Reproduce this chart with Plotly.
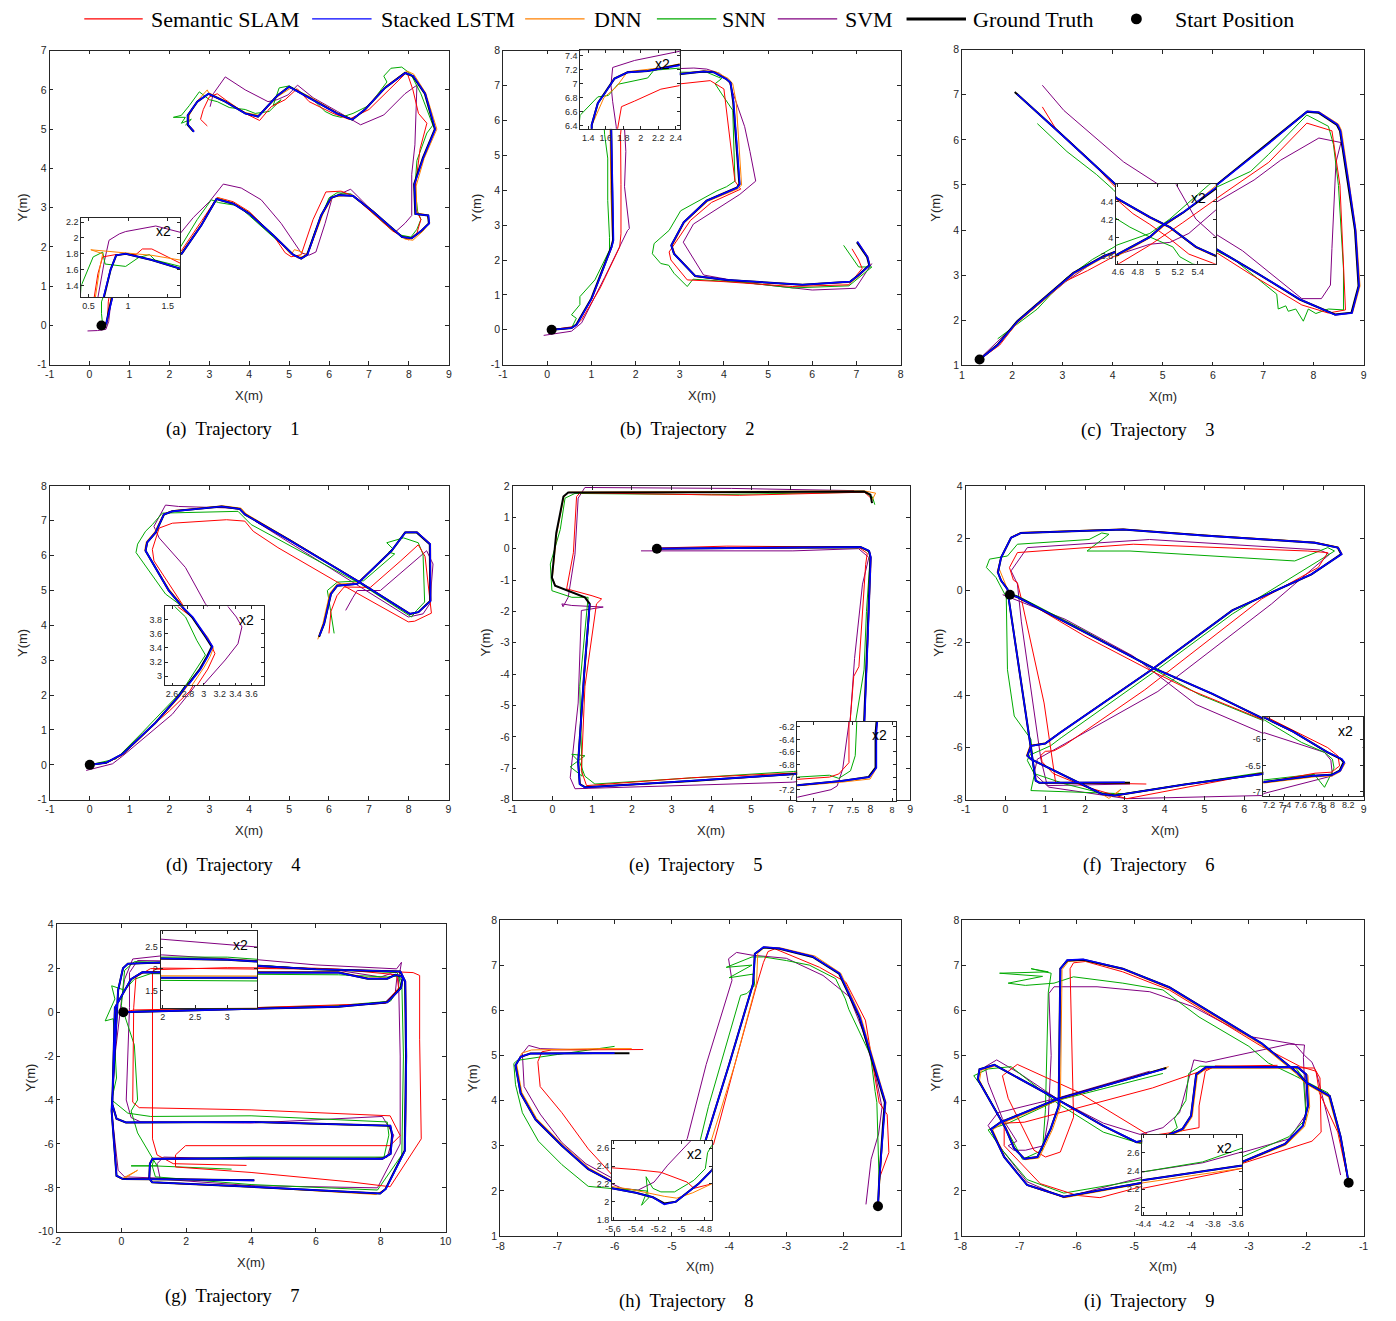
import plotly.graph_objects as go

W, H = 1396, 1321

# ======================= DATA =======================
# ---- Trajectory 1 ----
T1_GT_X = [0.30,0.42,0.49,0.57,0.69,0.78,0.85,0.97,1.30,1.66,2.00,2.31,2.80,3.18,3.60,4.00,4.60,5.10,5.30,5.45,5.80,6.05,6.25,6.60,7.10,7.60,7.83,8.07,8.32,8.50,8.48,8.16,8.13,8.35,8.65,8.40,8.10,7.90,7.40,6.90,6.58,6.20,5.60,5.00,4.70,4.22,3.90,3.40,2.98,2.70,2.46,2.46,2.60]
T1_GT_Y = [0.00,0.05,0.40,0.74,1.25,1.60,1.78,1.80,1.72,1.61,1.70,1.83,2.55,3.22,3.10,2.85,2.30,1.80,1.70,1.80,2.80,3.25,3.32,3.30,2.90,2.45,2.25,2.22,2.42,2.60,2.80,2.84,3.60,4.27,5.00,5.90,6.35,6.43,6.05,5.50,5.24,5.40,5.75,6.08,5.85,5.32,5.40,5.70,5.90,5.70,5.35,5.11,4.94]
T1_LSTM_X = [0.30,0.42,0.50,0.58,0.69,0.78,0.85,0.97,1.30,1.66,2.00,2.31,2.80,3.18,3.60,4.00,4.60,5.10,5.30,5.46,5.80,6.05,6.25,6.60,7.10,7.60,7.83,8.07,8.32,8.51,8.49,8.17,8.14,8.36,8.66,8.41,8.11,7.91,7.40,6.90,6.58,6.20,5.60,5.00,4.70,4.22,3.90,3.40,2.98,2.70,2.46,2.47,2.62]
T1_LSTM_Y = [0.00,0.05,0.40,0.74,1.25,1.60,1.78,1.80,1.72,1.61,1.70,1.83,2.55,3.22,3.10,2.85,2.30,1.80,1.70,1.80,2.80,3.25,3.32,3.30,2.90,2.45,2.25,2.22,2.42,2.60,2.80,2.84,3.60,4.27,5.00,5.90,6.35,6.43,6.05,5.50,5.24,5.40,5.75,6.08,5.85,5.32,5.40,5.70,5.90,5.70,5.35,5.11,4.93]
T1_SLAM_X = [0.35,0.45,0.47,0.56,0.62,0.68,0.85,1.10,1.18,1.30,1.66,2.00,2.30,2.80,3.20,3.60,4.00,4.60,4.90,5.05,5.30,5.60,5.92,6.30,6.60,7.10,7.60,7.99,8.20,8.30,8.15,8.15,8.28,8.45,8.24,8.10,7.95,7.50,7.00,6.50,6.10,5.50,5.20,4.90,4.55,4.26,3.90,3.40,3.20,3.00,2.85,2.78,2.95]
T1_SLAM_Y = [0.02,0.10,0.60,1.20,1.55,1.76,1.79,1.79,1.86,1.86,1.68,1.75,1.90,2.65,3.26,3.15,2.90,2.30,1.85,1.75,1.80,2.70,3.40,3.42,3.30,2.85,2.40,2.18,2.35,2.70,3.00,3.45,4.50,5.15,5.40,6.00,6.45,6.00,5.50,5.25,5.40,5.70,6.03,5.75,5.57,5.22,5.40,5.75,5.90,5.82,5.50,5.25,5.08]
T1_DNN_X = [0.32,0.45,0.52,0.58,0.64,0.68,0.53,0.90,1.30,1.66,2.00,2.30,2.80,3.22,3.60,4.00,4.60,5.05,5.13,5.34,5.20,5.35,5.50,5.85,6.10,6.60,7.10,7.60,7.90,8.10,8.35,8.52,8.45,8.20,8.18,8.38,8.70,8.42,8.12,7.95,7.40,6.90,6.60,6.20,5.60,5.05,4.70,4.25,3.90,3.40,2.98,2.95,2.70,2.50,2.48,2.62]
T1_DNN_Y = [0.02,0.10,0.60,1.20,1.60,1.80,1.85,1.82,1.78,1.72,1.70,1.85,2.58,3.25,3.12,2.88,2.30,1.80,1.93,1.87,1.72,1.76,1.90,2.85,3.28,3.32,2.92,2.45,2.20,2.17,2.40,2.62,2.82,2.86,3.55,4.25,5.00,5.92,6.40,6.48,6.08,5.52,5.25,5.42,5.78,6.05,5.82,5.35,5.42,5.72,5.93,6.00,5.72,5.36,5.12,4.96]
T1_SNN_X = [0.33,0.30,0.30,0.35,0.41,0.56,0.68,0.71,0.85,0.97,1.13,1.27,1.34,1.66,2.00,2.28,2.70,3.05,3.23,3.45,3.72,4.00,4.60,5.10,5.28,5.45,5.65,6.00,6.20,6.55,7.00,7.55,7.80,8.05,8.20,8.30,8.22,8.15,8.20,8.45,8.60,8.30,8.05,7.82,7.55,7.37,7.45,7.30,7.00,6.60,6.30,6.10,5.90,5.55,5.20,5.00,4.75,4.60,4.80,4.50,4.15,3.90,3.50,3.20,3.00,2.75,2.50,2.30,2.10,2.40,2.30,2.55,2.40]
T1_SNN_Y = [0.00,0.30,0.60,0.75,1.40,1.76,1.82,1.67,1.65,1.64,1.75,1.79,1.72,1.64,1.80,2.00,2.70,3.20,3.13,3.10,3.05,2.80,2.25,1.80,1.72,1.80,2.40,3.25,3.38,3.35,2.95,2.45,2.30,2.25,2.45,2.70,2.90,3.50,4.20,4.90,5.10,5.90,6.40,6.58,6.55,6.35,6.20,6.00,5.60,5.40,5.30,5.35,5.45,5.80,6.00,6.10,6.05,5.60,5.75,5.45,5.40,5.50,5.55,5.70,5.75,5.95,5.60,5.35,5.30,5.30,5.15,5.25,5.10]
T1_SVM_X = [-0.05,0.20,0.41,0.48,0.55,0.62,0.70,0.76,0.89,0.97,1.26,1.35,1.66,2.27,2.60,3.00,3.35,3.80,4.30,4.80,5.30,5.50,5.67,5.90,6.08,6.54,7.10,7.66,7.90,8.07,8.07,8.15,8.20,7.90,7.37,6.79,6.21,5.60,5.21,4.97,4.70,4.47,3.90,3.40,3.10,3.02]
T1_SVM_Y = [-0.14,-0.13,-0.10,0.10,0.74,1.25,1.70,1.97,2.05,2.08,2.13,2.15,2.07,2.34,2.75,3.15,3.60,3.50,3.20,2.60,1.85,1.79,1.87,2.60,3.26,3.47,2.90,2.38,2.60,2.80,3.85,4.60,6.12,5.90,5.36,5.11,5.45,5.80,6.12,5.87,5.75,5.70,6.00,6.33,5.90,5.57]

# ---- Trajectory 2 ----
T2_GT_X = [0.10,0.55,0.66,1.00,1.45,1.49,1.47,1.45,1.44,1.44,1.51,1.59,1.70,1.85,2.08,2.44,2.98,3.54,3.77,4.06,4.15,4.21,4.35,4.29,3.61,3.09,2.81,2.87,3.35,4.06,5.78,6.86,7.05,7.29,7.24,7.01]
T2_GT_Y = [0.00,0.05,0.15,0.90,2.37,2.56,4.00,5.59,6.20,6.41,6.72,6.86,7.07,7.16,7.18,7.27,7.32,7.40,7.38,7.18,7.08,6.53,4.17,4.07,3.70,3.08,2.42,2.18,1.54,1.43,1.29,1.38,1.57,1.85,2.09,2.51]
T2_LSTM_X = [0.10,0.55,0.67,1.01,1.46,1.50,1.48,1.46,1.44,1.44,1.51,1.59,1.70,1.85,2.08,2.44,2.98,3.54,3.77,4.06,4.15,4.22,4.36,4.30,3.61,3.09,2.81,2.87,3.35,4.06,5.78,6.86,7.05,7.30,7.25,7.02]
T2_LSTM_Y = [0.00,0.05,0.15,0.90,2.37,2.56,4.00,5.59,6.20,6.41,6.72,6.86,7.07,7.16,7.18,7.26,7.32,7.40,7.38,7.18,7.08,6.53,4.17,4.07,3.70,3.08,2.42,2.18,1.54,1.43,1.29,1.38,1.57,1.85,2.09,2.53]
T2_SLAM_X = [0.10,0.63,0.78,1.20,1.64,1.67,1.67,1.66,1.70,1.74,1.78,1.93,2.23,2.44,3.02,3.69,4.00,4.06,4.25,4.38,3.72,3.24,2.76,2.80,3.17,4.00,5.56,6.83,7.13,7.05,6.90]
T2_SLAM_Y = [0.00,0.10,0.29,1.20,2.37,2.75,4.17,5.59,6.10,6.41,6.67,6.75,6.92,6.97,7.05,7.14,6.90,6.25,4.26,4.03,3.65,3.13,2.23,2.00,1.43,1.38,1.24,1.29,1.76,2.00,2.32]
T2_DNN_X = [0.10,0.55,0.68,1.02,1.46,1.48,1.44,1.43,1.42,1.44,1.58,1.72,1.85,2.20,2.44,3.00,3.55,3.80,4.10,4.20,4.28,4.40,4.32,3.63,3.10,2.83,2.90,3.38,4.10,5.80,6.88,7.08,7.31,7.26,7.03]
T2_DNN_Y = [0.00,0.06,0.17,0.90,2.35,2.60,4.00,5.60,6.20,6.40,6.80,6.95,7.17,7.22,7.28,7.34,7.42,7.40,7.20,7.05,6.50,4.15,4.04,3.68,3.06,2.40,2.15,1.52,1.41,1.28,1.36,1.56,1.86,2.10,2.53]
T2_SNN_X = [0.10,0.55,0.66,0.55,0.74,0.74,1.08,1.41,1.41,1.37,1.37,1.30,1.27,1.31,1.51,1.63,1.74,2.08,2.15,2.44,3.02,3.61,3.95,3.80,3.95,4.20,4.25,4.06,3.84,3.02,2.76,2.42,2.38,2.57,2.75,2.87,3.17,3.30,4.50,5.56,6.83,7.35,7.05,6.71]
T2_SNN_Y = [0.00,0.05,0.33,0.43,0.72,0.95,1.43,2.28,2.65,3.70,4.92,5.59,6.20,6.55,6.81,6.83,6.99,7.08,7.19,7.22,7.38,7.38,7.20,7.05,6.76,6.29,4.26,4.10,3.98,3.41,2.85,2.47,2.18,1.90,1.85,1.62,1.24,1.45,1.35,1.20,1.26,1.80,1.80,2.42]
T2_SVM_X = [-0.08,0.55,0.78,1.30,1.82,1.86,1.75,1.78,1.74,1.72,1.68,1.66,1.68,1.93,2.44,3.32,3.61,3.90,4.12,4.47,4.59,4.72,4.36,3.31,3.08,3.54,4.50,6.00,6.98,7.20,7.35]
T2_SVM_Y = [-0.16,-0.04,0.20,1.50,2.85,2.90,4.10,5.11,6.00,6.39,6.74,6.98,7.23,7.33,7.46,7.50,7.47,7.35,7.10,5.82,5.11,4.26,3.88,3.03,2.51,1.57,1.35,1.14,1.19,1.62,1.90]

# ---- Trajectory 3 ----
T3_GT_X = [1.35,1.70,2.10,2.70,3.22,3.82,4.30,4.60,4.92,5.05,5.25,5.58,6.07,7.05,7.87,8.10,8.47,8.53,8.70,8.83,8.90,8.76,8.43,7.73,6.90,6.05,5.58,5.38,5.12,4.92,4.59,4.07,3.00,2.05]
T3_GT_Y = [1.13,1.45,1.98,2.55,3.05,3.42,3.62,3.82,4.01,4.14,4.28,4.56,5.00,5.87,6.62,6.60,6.33,6.20,5.00,4.00,2.76,2.17,2.13,2.46,3.03,3.59,3.80,3.90,4.12,4.23,4.44,5.00,6.10,7.06]
T3_LSTM_X = [1.36,1.71,2.11,2.71,3.23,3.83,4.30,4.60,4.92,5.05,5.25,5.58,6.08,7.06,7.88,8.11,8.48,8.54,8.71,8.84,8.91,8.77,8.44,7.74,6.90,6.05,5.58,5.38,5.12,4.92,4.59,4.07,3.00,2.10]
T3_LSTM_Y = [1.14,1.45,1.98,2.55,3.05,3.42,3.62,3.82,4.01,4.14,4.28,4.56,5.00,5.87,6.63,6.61,6.34,6.20,5.00,4.00,2.76,2.16,2.12,2.46,3.03,3.59,3.80,3.90,4.12,4.23,4.44,5.00,6.10,7.01]
T3_SLAM_X = [1.38,1.75,2.10,2.60,3.03,3.50,4.00,4.62,4.92,5.25,5.58,6.07,7.11,7.87,8.37,8.53,8.60,8.64,8.30,7.77,6.72,6.10,5.55,5.31,5.12,4.92,4.75,4.59,4.10,3.50,2.86,2.60]
T3_SLAM_Y = [1.15,1.45,1.95,2.45,2.85,3.10,3.40,3.72,3.92,4.17,4.43,4.70,5.50,6.37,6.20,4.99,3.33,2.23,2.16,2.34,3.04,3.48,3.72,3.82,3.99,4.15,4.27,4.42,4.90,5.60,6.26,6.73]
T3_DNN_X = [1.36,1.72,2.12,2.72,3.24,3.84,4.32,4.60,4.92,5.06,5.27,5.58,6.09,7.07,7.88,8.12,8.50,8.56,8.72,8.85,8.93,8.78,8.45,7.75,6.92,6.07,5.58,5.38,5.12,4.92,4.59,4.08,3.02,2.08]
T3_DNN_Y = [1.13,1.44,1.96,2.53,3.03,3.40,3.60,3.80,4.00,4.13,4.29,4.58,5.02,5.88,6.64,6.62,6.35,6.21,5.00,4.00,2.76,2.16,2.12,2.45,3.02,3.57,3.79,3.89,4.11,4.22,4.43,4.99,6.08,7.03]
T3_SNN_X = [1.71,2.50,3.06,3.60,4.07,4.59,4.92,5.12,5.51,6.07,6.75,7.11,7.87,8.30,8.40,8.50,8.60,8.60,8.30,8.05,7.90,7.80,7.65,7.50,7.45,7.30,7.27,6.45,6.05,5.35,5.22,5.15,4.92,4.72,4.59,4.01,3.68,3.09,2.50]
T3_SNN_Y = [1.59,2.25,2.92,3.35,3.65,3.92,4.05,4.21,4.59,4.95,5.30,5.68,6.55,6.30,5.90,4.99,3.14,2.23,2.25,2.15,2.25,1.98,2.25,2.20,2.32,2.25,2.58,3.32,3.55,3.71,3.79,3.90,4.01,4.12,4.21,4.90,5.23,5.74,6.36]
T3_SVM_X = [1.40,2.10,3.06,3.70,4.20,4.59,4.92,5.12,5.31,5.58,6.07,6.82,7.35,8.11,8.55,8.45,8.37,8.34,8.16,7.77,6.59,6.07,5.58,5.38,5.18,4.93,4.22,3.03,2.60]
T3_SVM_Y = [1.20,1.95,2.85,3.35,3.60,3.81,3.93,3.95,4.05,4.31,4.62,5.11,5.55,6.04,5.94,5.50,3.59,2.78,2.48,2.48,3.54,3.90,4.01,4.21,4.60,5.00,5.51,6.65,7.21]

# ---- Trajectory 4 ----
T4_GT_X = [0.00,0.41,0.82,1.65,2.23,2.79,2.95,3.04,3.10,3.02,2.85,2.73,2.40,1.98,1.40,1.44,1.65,1.86,2.07,3.31,3.76,3.89,5.00,6.71,8.03,8.24,8.54,8.53,8.20,7.91,7.57,7.04,6.71,6.21,6.05,5.88,5.75]
T4_GT_Y = [0.00,0.06,0.31,1.21,1.97,2.87,3.10,3.28,3.42,3.56,3.84,3.98,4.43,5.00,6.14,6.38,6.66,7.18,7.27,7.41,7.34,7.18,6.45,5.28,4.33,4.38,4.70,6.33,6.66,6.66,6.14,5.57,5.19,5.14,4.90,4.05,3.67]
T4_LSTM_X = [0.00,0.41,0.82,1.65,2.23,2.80,2.96,3.05,3.11,3.03,2.86,2.73,2.40,1.98,1.40,1.44,1.65,1.86,2.07,3.31,3.76,3.89,5.00,6.71,8.03,8.25,8.55,8.54,8.21,7.92,7.57,7.04,6.71,6.21,6.05,5.88,5.76]
T4_LSTM_Y = [0.00,0.06,0.31,1.21,1.97,2.87,3.10,3.28,3.42,3.56,3.84,3.98,4.43,5.00,6.14,6.38,6.66,7.18,7.27,7.41,7.34,7.18,6.45,5.28,4.33,4.38,4.70,6.33,6.67,6.67,6.14,5.57,5.19,5.14,4.90,4.05,3.70]
T4_SLAM_X = [0.05,0.40,0.82,1.40,2.00,2.50,2.91,3.05,3.14,3.10,3.02,2.85,2.68,2.32,1.61,1.57,1.74,2.07,3.43,3.89,4.10,4.72,6.21,7.99,8.15,8.57,8.45,8.41,8.24,7.80,7.04,6.70,6.38,6.20,6.05,6.00]
T4_SLAM_Y = [0.02,0.05,0.28,0.95,1.55,2.10,2.86,3.10,3.32,3.42,3.56,3.84,3.98,4.62,5.85,6.18,6.79,6.93,7.03,6.99,6.70,6.23,5.24,4.10,4.12,4.35,5.55,5.98,6.31,5.85,5.09,5.10,5.10,4.85,4.40,3.77]
T4_DNN_X = [0.00,0.41,0.84,1.67,2.25,2.85,3.00,3.08,3.12,3.05,2.85,2.72,2.42,2.00,1.38,1.42,1.63,1.85,2.08,3.33,3.80,3.92,5.02,6.73,8.05,8.26,8.56,8.55,8.22,7.92,7.58,7.05,6.70,6.20,6.02,5.85,5.72]
T4_DNN_Y = [0.00,0.05,0.30,1.20,1.95,2.87,3.12,3.28,3.40,3.55,3.84,3.98,4.45,5.02,6.16,6.40,6.68,7.20,7.29,7.43,7.36,7.20,6.46,5.28,4.32,4.38,4.70,6.34,6.68,6.68,6.15,5.58,5.22,5.18,4.92,4.06,3.60]
T4_SNN_X = [0.00,0.66,1.32,2.23,2.79,3.02,2.91,2.77,2.64,2.23,1.90,1.16,1.20,1.40,1.57,1.82,3.72,4.05,6.79,8.07,8.20,8.40,8.36,8.24,7.87,7.45,7.60,7.50,7.65,6.87,6.21,5.96,6.04,6.13]
T4_SNN_Y = [0.00,0.17,0.93,2.02,2.90,3.30,3.51,3.84,3.98,4.62,4.90,6.09,6.33,6.70,6.89,7.22,7.27,6.89,5.19,4.24,4.43,4.67,6.04,6.37,6.51,6.37,6.20,6.10,6.05,5.28,5.24,5.00,4.43,3.77]
T4_SVM_X = [-0.09,0.57,0.82,1.50,2.07,2.60,2.98,3.27,3.43,3.48,3.41,3.31,2.90,2.40,1.74,1.61,1.90,2.23,3.72,4.22,6.46,7.99,8.36,8.53,8.61,8.45,7.29,6.71,6.60,6.42]
T4_SVM_Y = [-0.16,0.03,0.25,0.90,1.45,2.20,2.86,3.23,3.46,3.70,3.84,3.98,4.62,5.66,6.51,6.84,7.45,7.41,7.36,6.94,5.33,4.24,4.33,4.62,5.76,6.14,5.00,5.00,4.80,4.43]

# ---- Trajectory 5 ----
T5_GT_X = [2.63,4.00,6.00,7.75,7.96,8.00,7.92,7.84,7.79,7.79,7.70,7.36,6.79,6.07,3.50,0.82,0.69,0.65,0.80,0.94,0.82,0.07,-0.01,0.10,0.28,0.40,4.00,7.84,8.00,8.04]
T5_GT_Y = [0.00,0.01,0.03,0.05,-0.07,-0.28,-3.00,-5.55,-6.30,-6.85,-7.00,-7.06,-7.13,-7.18,-7.40,-7.60,-7.50,-6.81,-4.00,-1.76,-1.55,-1.18,-0.92,0.50,1.66,1.79,1.80,1.82,1.72,1.45]
T5_LSTM_X = [2.63,4.00,6.00,7.75,7.97,8.01,7.93,7.85,7.80,7.80,7.71,7.36,6.79,6.07,3.50,0.82,0.69,0.65,0.80,0.94]
T5_LSTM_Y = [0.00,0.01,0.03,0.05,-0.07,-0.28,-3.00,-5.55,-6.30,-6.85,-7.00,-7.06,-7.13,-7.19,-7.41,-7.61,-7.51,-6.81,-4.00,-1.76]
T5_SLAM_X = [2.63,4.39,7.70,7.92,7.88,7.71,7.58,7.50,7.45,7.45,7.32,7.20,6.79,6.07,3.50,1.24,0.86,0.73,0.82,1.11,1.24,1.00,0.36,0.53,0.61,0.70,4.70,7.85,8.02]
T5_SLAM_Y = [0.02,0.08,0.05,-0.15,-0.50,-3.76,-4.07,-5.50,-6.12,-6.77,-6.95,-7.00,-7.05,-7.15,-7.30,-7.50,-7.55,-7.07,-4.39,-1.76,-1.60,-1.50,-1.28,-0.13,1.66,1.78,1.70,1.80,1.60]
T5_DNN_X = [2.63,4.00,6.00,7.75,7.98,8.02,7.93,7.85,7.80,7.80,7.72,7.36,6.79,6.07,3.50,0.83,0.70,0.66,0.81,0.95,0.83,0.08,0.00,0.11,0.29,0.42,4.00,7.84,8.13,8.02]
T5_DNN_Y = [0.00,0.00,0.02,0.03,-0.09,-0.30,-3.00,-5.55,-6.30,-6.86,-7.03,-7.08,-7.14,-7.19,-7.41,-7.61,-7.51,-6.82,-4.01,-1.77,-1.56,-1.19,-0.93,0.49,1.65,1.80,1.82,1.84,1.77,1.50]
T5_SNN_X = [2.63,5.00,7.80,8.00,7.90,7.84,7.65,7.55,7.53,7.47,7.32,7.20,6.79,6.07,1.07,0.82,0.69,0.49,0.82,0.45,0.75,0.69,0.90,0.49,-0.01,-0.05,0.20,0.32,0.57,4.00,7.84,8.05,8.11]
T5_SNN_Y = [0.00,0.02,0.03,-0.15,-2.00,-3.86,-5.30,-6.12,-6.66,-6.90,-7.02,-6.97,-7.00,-7.10,-7.50,-7.25,-6.81,-6.55,-6.60,-6.95,-7.25,-4.39,-1.55,-1.55,-1.34,-0.49,0.61,1.61,1.76,1.72,1.80,1.65,1.40]
T5_SVM_X = [2.23,4.00,6.05,7.70,7.96,7.80,7.60,7.51,7.45,7.37,7.30,7.22,6.79,6.05,0.57,0.45,0.65,0.73,1.28,0.49,0.24,0.27,0.40,0.57,0.65,0.82,4.50,7.59]
T5_SVM_Y = [-0.07,-0.08,-0.07,0.00,-0.28,-1.13,-3.50,-5.13,-6.14,-6.87,-7.14,-7.20,-7.32,-7.44,-7.65,-7.30,-4.92,-1.97,-1.86,-1.81,-1.76,-1.85,-1.55,-0.18,1.61,1.95,1.92,1.85]

# ---- Trajectory 6 ----
T6_GT_X = [0.11,0.30,2.00,3.70,5.20,6.44,7.15,7.50,7.94,8.11,8.14,8.09,7.99,7.76,7.13,6.44,4.50,2.75,2.42,1.50,0.64,0.55,0.64,1.00,1.38,3.70,5.70,7.69,8.19,8.44,8.35,7.77,5.00,2.96,0.39,0.14,-0.11,-0.19,-0.11,0.05,0.08,0.40,0.76,0.85,3.13]
T6_GT_Y = [-0.16,-0.25,-1.60,-2.95,-3.95,-4.87,-5.59,-5.85,-6.25,-6.38,-6.44,-6.60,-6.68,-6.70,-6.82,-7.02,-7.42,-7.84,-7.78,-7.10,-6.45,-6.32,-5.94,-5.85,-5.43,-3.00,-0.76,0.62,1.13,1.39,1.64,1.83,2.10,2.33,2.20,2.02,1.26,0.69,0.38,0.05,-0.30,-3.50,-7.27,-7.35,-7.35]
T6_LSTM_X = [0.11,0.30,2.00,3.70,5.20,6.44,7.15,7.50,7.94,8.12,8.15,8.10,8.00,7.76,7.13,6.44,4.50,2.75,2.42,1.50,0.64,0.55,0.64,1.00,1.38,3.70,5.70,7.69,8.20,8.45,8.36,7.77,5.00,2.96,0.39,0.14,-0.11,-0.19,-0.11,0.05,0.08,0.40,0.76,0.85,3.00]
T6_LSTM_Y = [-0.16,-0.25,-1.60,-2.95,-3.95,-4.87,-5.59,-5.85,-6.25,-6.38,-6.44,-6.60,-6.68,-6.70,-6.82,-7.02,-7.42,-7.84,-7.78,-7.10,-6.45,-6.32,-5.94,-5.85,-5.43,-3.00,-0.76,0.62,1.13,1.39,1.64,1.83,2.10,2.33,2.20,2.02,1.26,0.69,0.38,0.05,-0.30,-3.50,-7.27,-7.35,-7.33]
T6_SLAM_X = [0.12,0.39,2.00,3.70,4.62,6.44,7.19,7.94,8.07,8.09,7.99,7.78,7.15,6.44,3.05,2.00,1.20,0.92,0.89,1.00,1.22,1.50,3.50,6.44,7.86,8.10,7.60,3.21,0.30,0.10,0.20,0.30,0.39,0.97,1.26,3.54]
T6_SLAM_Y = [-0.12,-0.30,-1.75,-3.10,-3.79,-4.92,-5.59,-6.16,-6.32,-6.51,-6.63,-6.65,-6.79,-6.98,-7.96,-7.50,-7.00,-6.55,-6.30,-6.15,-6.13,-5.90,-3.80,-0.32,0.88,1.45,1.51,1.77,1.45,0.88,0.40,0.30,-0.26,-4.30,-7.34,-7.40]
T6_DNN_X = [0.11,0.30,2.00,3.70,5.20,6.44,7.15,7.50,7.94,8.12,8.16,8.10,8.00,7.77,7.13,6.44,4.50,2.75,2.90,2.60,2.42,1.50,0.64,0.53,0.62,1.00,1.38,3.70,5.70,7.70,8.20,8.46,8.37,7.78,5.00,2.96,0.39,0.14,-0.11,-0.21,-0.15,0.05,0.08,0.40,0.76,0.85,3.13]
T6_DNN_Y = [-0.16,-0.25,-1.60,-2.95,-3.96,-4.88,-5.60,-5.86,-6.26,-6.39,-6.46,-6.62,-6.70,-6.72,-6.84,-7.03,-7.43,-7.85,-7.60,-7.95,-7.78,-7.10,-6.45,-6.30,-5.92,-5.83,-5.41,-2.98,-0.75,0.63,1.14,1.40,1.66,1.85,2.12,2.35,2.22,2.04,1.28,0.70,0.80,0.05,-0.30,-3.50,-7.28,-7.36,-7.36]
T6_SNN_X = [0.10,0.30,2.00,4.87,6.44,7.13,7.61,7.90,8.00,8.02,7.90,7.77,7.13,6.44,2.96,2.50,1.50,0.72,0.55,0.60,1.13,1.40,3.70,5.70,8.27,8.10,7.27,3.13,2.05,2.30,2.60,2.42,2.10,0.30,0.05,-0.40,-0.48,-0.24,0.02,0.05,0.22,0.64,0.72,0.64,1.50,2.96]
T6_SNN_Y = [-0.12,-0.20,-1.55,-3.98,-4.95,-5.62,-6.06,-6.25,-6.38,-6.55,-6.92,-6.67,-6.78,-6.96,-7.77,-7.78,-7.40,-7.00,-6.50,-6.30,-5.94,-5.63,-3.15,-0.90,1.51,1.64,1.13,1.51,1.51,1.80,2.15,2.20,1.95,1.77,1.32,1.20,0.88,0.50,-0.25,-3.03,-4.80,-5.69,-7.08,-7.65,-7.70,-7.77]
T6_SVM_X = [-0.07,1.50,3.20,4.79,6.44,7.13,7.90,7.98,8.00,7.13,6.44,3.05,1.09,0.72,0.80,2.50,3.83,6.69,8.14,7.90,3.62,0.55,0.14,0.30,0.40,0.89,1.05,3.13]
T6_SVM_Y = [-0.16,-1.10,-2.50,-4.36,-5.44,-5.87,-6.25,-6.40,-6.70,-7.04,-7.84,-7.96,-7.52,-7.00,-6.45,-5.00,-3.86,-0.51,1.38,1.55,1.95,1.64,0.75,0.25,-1.20,-6.45,-7.46,-7.40]

# ---- Trajectory 7 ----
T7_GT_X = [0.06,1.20,4.00,6.70,8.20,8.62,8.68,8.45,8.20,7.60,6.70,3.50,2.00,0.65,0.30,0.00,-0.20,-0.28,-0.15,0.14,4.00,8.29,8.35,8.30,8.05,4.00,0.96,0.88,0.86,0.95,4.00,7.98,8.15,8.74,8.78,8.75,8.60,6.00,3.00,1.20,0.20,0.05,-0.10,-0.25,-0.30,-0.15,0.05,2.00,4.10]
T7_GT_Y = [0.00,0.05,0.15,0.25,0.45,1.10,1.60,1.70,1.52,1.52,1.80,1.80,1.80,1.82,1.50,0.70,0.20,-4.20,-4.85,-5.02,-5.00,-5.17,-5.60,-6.45,-6.68,-6.66,-6.68,-6.90,-7.58,-7.75,-7.95,-8.26,-8.05,-6.30,-2.00,1.40,1.85,1.95,2.21,2.26,2.20,2.00,1.00,-3.00,-4.50,-7.45,-7.60,-7.62,-7.65]
T7_LSTM_X = [0.06,1.20,4.00,6.70,8.21,8.63,8.69,8.46,8.20,7.60,6.70,3.50,2.00,0.65,0.30,0.00,-0.20,-0.28,-0.15,0.14,4.00,8.30,8.36,8.31,8.05,4.00,0.96,0.88,0.86,0.95,4.00,7.98,8.16,8.75,8.79,8.76,8.61,6.00,3.00,1.20,0.20,0.05,-0.10,-0.25,-0.30,-0.15,0.05,2.00,4.10]
T7_LSTM_Y = [0.00,0.05,0.15,0.25,0.45,1.10,1.60,1.70,1.52,1.52,1.80,1.80,1.80,1.82,1.50,0.70,0.20,-4.20,-4.85,-5.02,-5.00,-5.17,-5.60,-6.45,-6.68,-6.66,-6.68,-6.90,-7.58,-7.75,-7.95,-8.26,-8.05,-6.30,-2.00,1.40,1.85,1.95,2.21,2.26,2.20,2.00,1.00,-3.00,-4.50,-7.45,-7.60,-7.62,-7.66]
T7_SLAM_X = [0.06,0.40,4.00,8.15,8.55,8.50,6.70,2.00,0.90,0.45,0.38,0.35,0.55,4.00,8.29,8.60,8.29,4.00,1.98,1.67,1.67,4.00,7.07,8.29,9.25,9.20,9.20,9.00,6.00,3.00,1.00,0.96,0.96,1.10,1.60,3.86]
T7_SLAM_Y = [0.00,0.10,0.20,0.40,1.10,1.70,1.95,2.02,1.98,1.60,0.20,-4.10,-4.35,-4.45,-4.72,-5.62,-6.08,-6.10,-6.08,-6.50,-7.05,-7.30,-7.73,-7.95,-5.77,-1.26,1.67,1.80,2.00,2.03,1.95,1.74,-5.77,-6.50,-6.90,-6.98]
T7_DNN_X = [0.06,1.20,4.00,6.70,8.22,8.64,8.70,8.47,8.22,7.62,6.70,3.50,2.00,0.66,0.30,0.00,-0.20,-0.28,-0.15,0.14,4.00,8.30,8.36,8.31,8.06,4.00,0.96,0.88,0.86,0.95,4.00,7.85,8.15,8.76,8.80,8.77,8.62,6.00,3.00,1.20,0.20,0.05,-0.10,-0.25,-0.30,-0.15,0.00,0.50,0.05,2.00,4.10]
T7_DNN_Y = [0.00,0.05,0.15,0.25,0.46,1.10,1.60,1.72,1.55,1.55,1.84,1.84,1.84,1.85,1.52,0.70,0.20,-4.20,-4.86,-5.03,-5.01,-5.18,-5.60,-6.45,-6.69,-6.67,-6.69,-6.90,-7.58,-7.76,-7.96,-8.30,-8.06,-6.30,-2.00,1.40,1.86,1.96,2.22,2.22,2.21,2.00,1.00,-3.00,-4.50,-7.45,-7.60,-7.20,-7.62,-7.63,-7.66]
T7_SNN_X = [0.06,0.50,4.00,6.70,8.30,8.62,8.55,8.20,6.70,3.50,2.00,0.90,0.40,0.10,-0.30,-0.20,-0.50,-0.25,-0.15,-0.30,0.20,0.90,4.00,8.20,8.25,8.10,4.00,1.00,0.95,1.05,4.00,7.90,8.65,8.70,8.65,8.50,6.00,3.00,1.20,0.40,0.10,0.00,0.40,0.50,0.30,0.50,1.10,0.30,1.00,3.40]
T7_SNN_Y = [0.00,0.05,0.20,0.30,0.50,1.20,1.65,1.60,1.70,1.73,1.73,1.75,1.50,1.00,1.20,0.60,-0.40,-0.30,-3.00,-4.00,-4.60,-4.75,-4.72,-5.00,-5.60,-6.60,-6.60,-6.70,-7.00,-7.50,-7.85,-8.10,-6.50,-2.00,1.40,1.80,1.95,2.27,2.27,2.30,1.90,0.30,-1.50,-4.00,-4.50,-5.50,-7.00,-7.00,-7.00,-7.15]
T7_SVM_X = [0.06,0.40,4.00,6.70,8.10,8.45,8.50,8.30,8.00,6.70,3.47,2.00,0.50,0.25,0.25,0.15,0.30,0.60,4.00,8.05,8.40,8.20,7.80,4.00,1.30,1.10,1.20,4.00,7.90,8.60,8.60,8.55,8.64,8.49,6.00,3.47,1.97,0.35,0.10,0.00,-0.20,-0.30,-0.10,0.10,2.00,4.00]
T7_SVM_Y = [0.00,0.05,0.18,0.28,0.40,0.90,1.60,1.75,1.60,1.90,2.20,2.32,2.35,1.80,0.20,-4.00,-4.80,-5.00,-5.05,-4.75,-5.60,-6.60,-6.65,-6.70,-6.60,-6.90,-7.60,-7.90,-8.00,-6.00,-2.00,1.50,2.27,1.97,2.15,2.50,2.68,2.42,1.50,0.50,-2.00,-4.50,-7.20,-7.50,-7.60,-7.65]

# ---- Trajectory 8 ----
T8_GT_X = [-1.40,-1.38,-1.31,-1.28,-1.42,-1.73,-2.08,-2.54,-3.12,-3.40,-3.55,-3.58,-4.00,-4.42,-4.734,-4.85,-4.95,-5.05,-5.15,-5.25,-5.40,-5.609,-6.04,-6.46,-6.92,-7.38,-7.64,-7.73,-7.64,-7.47,-6.34,-5.74]
T8_GT_Y = [1.66,2.20,3.50,3.96,4.55,5.86,6.81,7.18,7.36,7.39,7.25,6.59,4.80,3.08,2.35,2.20,2.10,2.00,1.98,2.05,2.10,2.15,2.20,2.48,3.00,3.58,4.16,4.78,4.97,5.04,5.05,5.05]
T8_LSTM_X = [-1.40,-1.38,-1.30,-1.27,-1.41,-1.72,-2.07,-2.54,-3.12,-3.40,-3.55,-3.58,-4.00,-4.42,-4.734,-4.85,-4.95,-5.05,-5.15,-5.25,-5.40,-5.609,-6.04,-6.46,-6.92,-7.38,-7.64,-7.73,-7.64,-7.47,-6.34,-6.00]
T8_LSTM_Y = [1.66,2.20,3.50,3.96,4.55,5.86,6.81,7.19,7.37,7.40,7.25,6.59,4.80,3.08,2.35,2.20,2.10,2.00,1.97,2.05,2.10,2.15,2.20,2.48,3.00,3.58,4.16,4.78,4.97,5.04,5.05,5.05]
T8_SLAM_X = [-1.40,-1.37,-1.21,-1.24,-1.38,-1.62,-1.96,-2.42,-3.20,-3.32,-3.40,-3.52,-3.90,-4.27,-4.734,-4.89,-4.95,-5.18,-5.40,-5.609,-6.04,-6.46,-6.92,-7.30,-7.34,-7.27,-7.10,-5.50]
T8_SLAM_Y = [1.66,2.30,2.85,3.69,3.96,5.78,6.62,6.95,7.36,7.30,7.06,6.55,4.80,3.04,2.20,2.15,2.22,2.33,2.36,2.38,2.35,2.93,3.73,4.31,4.86,5.08,5.12,5.13]
T8_DNN_X = [-1.40,-1.37,-1.30,-1.26,-1.40,-1.70,-2.05,-2.50,-3.10,-3.38,-3.50,-3.52,-3.90,-4.32,-4.734,-4.90,-5.04,-5.15,-5.30,-5.45,-5.609,-6.04,-6.44,-6.90,-7.36,-7.62,-7.71,-7.62,-7.45,-6.30,-5.70]
T8_DNN_Y = [1.66,2.20,3.50,3.96,4.55,5.86,6.82,7.20,7.38,7.40,7.26,6.60,4.80,3.08,2.20,2.10,2.04,2.06,2.10,2.14,2.17,2.22,2.50,3.02,3.60,4.18,4.80,5.05,5.12,5.15,5.15]
T8_SNN_X = [-1.40,-1.38,-1.42,-1.45,-1.53,-1.91,-1.97,-2.14,-2.60,-3.00,-3.40,-3.60,-4.05,-3.60,-4.00,-3.58,-3.55,-3.69,-3.80,-4.36,-4.50,-4.77,-4.79,-4.89,-5.06,-5.18,-5.25,-5.31,-5.29,-5.35,-5.30,-5.609,-6.04,-6.46,-6.92,-7.33,-7.61,-7.73,-7.76,-7.70,-7.00,-6.00]
T8_SNN_Y = [1.66,2.20,3.96,4.20,5.00,6.02,6.25,6.70,7.00,7.10,7.18,7.18,6.95,7.00,6.72,6.80,6.55,6.37,6.33,3.87,3.14,2.55,2.37,2.24,2.11,2.11,2.15,2.28,2.04,1.96,2.12,2.15,2.05,2.10,2.58,3.10,3.73,4.35,4.82,4.89,5.02,5.20]
T8_SVM_X = [-1.61,-1.52,-1.39,-1.33,-1.45,-1.67,-1.90,-2.36,-3.00,-3.60,-3.87,-4.01,-3.95,-4.40,-4.73,-4.92,-5.12,-5.24,-5.38,-5.52,-5.609,-6.04,-6.50,-6.92,-7.30,-7.58,-7.61,-7.50,-7.30,-6.49]
T8_SVM_Y = [1.70,2.70,3.26,3.85,4.60,5.56,6.30,6.77,7.15,7.22,7.28,7.14,6.66,4.80,3.16,2.68,2.41,2.22,2.13,2.15,2.20,2.28,2.60,3.07,3.70,4.31,5.04,5.22,5.15,5.12]

# ---- Trajectory 9 ----
T9_GT_X = [-1.26,-1.40,-1.59,-1.80,-2.00,-2.15,-2.78,-4.39,-5.20,-5.89,-6.17,-6.29,-6.32,-6.46,-6.69,-6.92,-7.10,-7.25,-7.55,-7.73,-7.70,-7.44,-6.35,-5.54,-4.96,-4.44,-4.16,-4.01,-3.92,-3.75,-2.15,-2.00,-1.97,-2.06,-2.37,-3.12,-3.549,-4.411,-4.86,-6.23,-6.87,-7.27,-7.50,-7.33,-6.35,-4.44]
T9_GT_Y = [2.18,3.20,4.10,4.25,4.40,4.61,5.27,6.51,6.92,7.12,7.10,6.92,3.88,3.37,2.75,2.71,2.95,3.40,4.05,4.47,4.69,4.79,4.03,3.44,3.08,3.22,3.37,3.66,4.58,4.74,4.74,4.58,3.88,3.44,3.04,2.64,2.46,2.30,2.18,1.87,2.13,2.75,3.37,3.52,4.03,4.72]
T9_LSTM_X = [-1.26,-1.40,-1.59,-1.80,-2.00,-2.15,-2.78,-4.39,-5.20,-5.89,-6.17,-6.29,-6.32,-6.46,-6.69,-6.92,-7.10,-7.25,-7.55,-7.73,-7.70,-7.44,-6.35,-5.54,-4.96,-4.44,-4.16,-4.01,-3.92,-3.75,-2.15,-2.00,-1.97,-2.06,-2.37,-3.12,-3.549,-4.411,-4.86,-6.23,-6.87,-7.27,-7.50,-7.33,-6.35,-4.48]
T9_LSTM_Y = [2.18,3.20,4.10,4.25,4.40,4.61,5.27,6.51,6.92,7.13,7.11,6.92,3.88,3.37,2.75,2.71,2.95,3.40,4.05,4.47,4.69,4.79,4.03,3.44,3.08,3.22,3.37,3.66,4.58,4.74,4.74,4.58,3.88,3.44,3.04,2.64,2.46,2.30,2.18,1.87,2.13,2.75,3.37,3.52,4.03,4.70]
T9_SLAM_X = [-1.26,-1.45,-1.77,-1.83,-2.10,-2.78,-4.39,-5.20,-5.85,-6.06,-6.12,-6.06,-6.29,-6.55,-6.75,-6.95,-7.20,-7.30,-7.04,-6.00,-4.73,-4.30,-3.87,-3.87,-3.76,-3.59,-1.86,-1.76,-1.74,-1.90,-3.12,-3.549,-4.411,-4.86,-5.60,-6.00,-6.64,-7.27,-7.27,-6.92,-4.68,-3.59,-2.50]
T9_SLAM_Y = [2.18,3.30,4.17,4.65,4.75,5.20,6.45,6.85,7.08,7.05,6.92,3.63,2.86,2.75,2.90,3.40,4.05,4.55,4.80,4.20,3.22,3.30,3.40,3.88,4.65,4.76,4.72,4.50,3.30,3.10,2.60,2.43,2.21,2.10,1.85,1.90,2.16,3.00,3.50,3.52,4.28,4.76,4.78]
T9_DNN_X = [-1.26,-1.41,-1.61,-1.82,-2.02,-2.17,-2.80,-4.40,-5.20,-5.88,-6.15,-6.26,-6.29,-6.43,-6.66,-6.90,-7.08,-7.23,-7.53,-7.70,-7.67,-7.42,-6.33,-5.52,-4.94,-4.42,-4.14,-3.99,-3.90,-3.73,-2.13,-1.97,-1.94,-2.03,-2.35,-3.12,-3.549,-4.411,-4.86,-6.21,-6.85,-7.25,-7.47,-7.30,-6.33,-4.40]
T9_DNN_Y = [2.18,3.18,4.08,4.23,4.38,4.59,5.25,6.49,6.90,7.10,7.08,6.90,3.86,3.35,2.73,2.69,2.93,3.38,4.03,4.45,4.67,4.77,4.01,3.42,3.06,3.20,3.35,3.64,4.56,4.72,4.72,4.56,3.86,3.42,3.02,2.62,2.43,2.27,2.16,1.85,2.11,2.73,3.35,3.50,4.01,4.75]
T9_SNN_X = [-1.26,-1.35,-1.62,-2.20,-2.66,-3.00,-3.87,-4.50,-5.20,-6.06,-6.40,-6.90,-7.20,-6.60,-7.35,-6.50,-6.80,-6.45,-6.50,-6.55,-6.60,-6.95,-7.20,-7.60,-7.80,-7.55,-7.15,-6.35,-5.54,-4.90,-4.50,-4.25,-4.30,-4.10,-4.05,-3.85,-2.20,-2.05,-2.00,-2.30,-3.12,-3.549,-3.89,-4.411,-4.86,-6.23,-6.87,-7.30,-7.55,-7.20,-6.35,-4.50]
T9_SNN_Y = [2.18,2.90,4.17,4.55,4.83,5.20,5.85,6.45,6.60,6.74,6.60,6.55,6.60,6.75,6.82,6.85,6.92,6.82,6.40,3.80,2.90,2.70,3.30,4.20,4.55,4.70,4.75,3.95,3.30,3.05,3.15,3.40,3.60,4.00,4.60,4.76,4.75,4.50,3.60,3.20,2.75,2.65,2.50,2.39,2.25,1.95,2.25,2.90,3.35,3.50,4.00,4.60]
T9_SVM_X = [-1.40,-1.60,-1.82,-1.90,-2.03,-2.20,-3.00,-3.98,-4.73,-5.65,-6.40,-6.49,-6.45,-6.50,-6.58,-6.90,-7.10,-7.20,-7.05,-7.30,-7.55,-7.60,-7.40,-7.00,-6.30,-5.54,-4.90,-4.50,-4.33,-4.21,-3.96,-3.75,-2.30,-2.03,-2.05,-2.00,-2.30,-3.12,-3.549,-3.89,-4.411,-4.86,-6.23,-6.87,-7.30,-7.55,-7.38,-6.35,-4.73]
T9_SVM_Y = [2.35,3.50,4.61,4.85,5.00,5.25,5.42,6.08,6.41,6.52,6.52,6.37,5.00,3.60,3.00,2.90,2.90,3.00,3.10,3.60,4.40,4.75,4.90,4.60,4.00,3.50,3.25,3.40,3.59,3.73,4.90,4.85,5.25,5.23,4.95,3.70,3.15,2.85,2.61,2.49,2.39,2.30,1.85,2.20,2.90,3.45,3.73,4.05,4.65]

# ---- axis ranges and tick labels ----
MAIN_XRANGE = [(-1, 9), (-1, 8), (1, 9), (-1, 9), (-1, 9), (-1, 9), (-2, 10), (-8, -1), (-8, -1)]
MAIN_YRANGE = [(-1, 7), (-1, 8), (1, 8), (-1, 8), (-8, 2), (-8, 4), (-10, 4), (1, 8), (1, 8)]
MAIN_XTICKS = [list(range(-1, 10)), list(range(-1, 9)), list(range(1, 10)), list(range(-1, 10)),
               list(range(-1, 10)), list(range(-1, 10)), list(range(-2, 11, 2)),
               list(range(-8, 0)), list(range(-8, 0))]
MAIN_YTICKS = [list(range(-1, 8)), list(range(-1, 9)), list(range(1, 9)), list(range(-1, 9)),
               list(range(-8, 3)), list(range(-8, 5, 2)), list(range(-10, 5, 2)),
               list(range(1, 9)), list(range(1, 9))]
INSET_XRANGE = [(0.41, 1.66), (1.31, 2.445), (4.58, 5.585), (2.508, 3.757), (6.79, 8.055),
                (7.13, 8.38), (1.965, 3.467), (-5.609, -4.734), (-4.411, -3.549)]
INSET_YRANGE = [(1.25, 2.25), (6.353, 7.475), (3.714, 4.595), (2.867, 3.99), (-7.38, -6.12),
                (-7.095, -5.577), (1.116, 2.86), (1.793, 2.682), (1.92, 2.795)]
INSET_XTICKS = [[0.5, 1, 1.5], [1.4, 1.6, 1.8, 2, 2.2, 2.4], [4.6, 4.8, 5, 5.2, 5.4],
                [2.6, 2.8, 3, 3.2, 3.4, 3.6], [7, 7.5, 8], [7.2, 7.4, 7.6, 7.8, 8, 8.2],
                [2, 2.5, 3], [-5.6, -5.4, -5.2, -5, -4.8], [-4.4, -4.2, -4, -3.8, -3.6]]
INSET_YTICKS = [[1.4, 1.6, 1.8, 2, 2.2], [6.4, 6.6, 6.8, 7, 7.2, 7.4], [3.8, 4, 4.2, 4.4],
                [3, 3.2, 3.4, 3.6, 3.8], [-7.2, -7, -6.8, -6.6, -6.4, -6.2], [-7, -6.5, -6],
                [1.5, 2, 2.5], [1.8, 2, 2.2, 2.4, 2.6], [2, 2.2, 2.4, 2.6]]
CAPTIONS = ["(a)", "(b)", "(c)", "(d)", "(e)", "(f)", "(g)", "(h)", "(i)"]
SERIES_NAMES = {"SLAM": "Semantic SLAM", "LSTM": "Stacked LSTM", "DNN": "DNN",
                "SNN": "SNN", "SVM": "SVM", "GT": "Ground Truth"}

# ======================= LAYOUT (pixel boxes) =======================
MAIN_BOX = [(43, 446, 45, 362), (500.7, 902, 45, 362), (964, 1369.3, 44, 362.7),
            (43.3, 445.7, 484.3, 801), (510.3, 911.7, 484.3, 801), (967.7, 1369.3, 484.3, 801),
            (50, 442.7, 926.7, 1237), (497.7, 902.3, 922.3, 1241.3), (964.3, 1369.3, 922.3, 1241.3)]
INSET_BOX = [(75, 175, 214, 294), (578.7, 679, 44.7, 124), (1119.3, 1220.7, 180, 260),
             (159.3, 259.3, 606, 685.7), (797.7, 897.7, 722.3, 802.3), (1268.3, 1368.3, 717.7, 797.7),
             (155, 252.7, 933.7, 1011), (610.7, 711.3, 1145.3, 1225.3), (1146, 1246.7, 1139.3, 1220)]
CAPTION_POS = [(228, 427), (687, 427), (1152, 428), (229, 867), (695, 867), (1153, 867),
               (228, 1302), (686, 1307), (1153, 1307)]

STYLE = {"SLAM": ("#ff0000", 1.0), "DNN": ("#ff8000", 1.0), "SNN": ("#00aa00", 1.0),
         "SVM": ("#800080", 1.0), "GT": ("#000000", 2.0), "LSTM": ("#0000ff", 1.6)}
DRAW_ORDER = ["SVM", "SNN", "SLAM", "DNN", "GT", "LSTM"]

AXC = "#262626"


def fx(px):
    return px / W


def fy(py):
    return 1 - py / H


def fmt(v):
    return f"{v:g}"


fig = go.Figure()
G = globals()


def add_panel_traces(p, axis_index):
    xa = "x" if axis_index == 1 else f"x{axis_index}"
    ya = "y" if axis_index == 1 else f"y{axis_index}"
    for key in DRAW_ORDER:
        xs = G[f"T{p + 1}_{key}_X"]
        ys = G[f"T{p + 1}_{key}_Y"]
        c, w = STYLE[key]
        fig.add_trace(go.Scatter(x=xs, y=ys, mode="lines", name=SERIES_NAMES[key],
                                 line=dict(color=c, width=w), xaxis=xa, yaxis=ya,
                                 hoverinfo="skip", showlegend=False))


# main plots first
for p in range(9):
    add_panel_traces(p, p + 1)
    gx = G[f"T{p + 1}_GT_X"]
    gy = G[f"T{p + 1}_GT_Y"]
    fig.add_trace(go.Scatter(x=[gx[0]], y=[gy[0]], mode="markers", name="Start Position",
                             marker=dict(color="black", size=10),
                             xaxis="x" if p == 0 else f"x{p + 1}",
                             yaxis="y" if p == 0 else f"y{p + 1}",
                             hoverinfo="skip", showlegend=False))
# insets (drawn over the main plots, with their own opaque background)
for p in range(9):
    add_panel_traces(p, p + 10)

layout = dict(width=W, height=H, autosize=False, margin=dict(l=0, r=0, t=0, b=0, pad=0),
              paper_bgcolor="white", plot_bgcolor="white", showlegend=False,
              font=dict(family="Liberation Sans, Arial, sans-serif", color=AXC))


def axis_common(tsize, tlen):
    return dict(showline=True, linecolor=AXC, linewidth=0.8, mirror="ticks",
                ticks="inside", ticklen=tlen, tickwidth=0.8, tickcolor=AXC,
                showgrid=False, zeroline=False, fixedrange=True,
                tickfont=dict(size=tsize, color=AXC,
                              family="Liberation Sans, Arial, sans-serif"))


for i in range(18):
    k = i + 1
    p = i % 9
    if i < 9:
        l, r, t, b = MAIN_BOX[p]
        xr, yr = MAIN_XRANGE[p], MAIN_YRANGE[p]
        xt, yt = MAIN_XTICKS[p], MAIN_YTICKS[p]
        com = axis_common(10.5, 4)
    else:
        l, r, t, b = INSET_BOX[p]
        xr, yr = INSET_XRANGE[p], INSET_YRANGE[p]
        xt, yt = INSET_XTICKS[p], INSET_YTICKS[p]
        com = axis_common(9, 3)
    xk = "xaxis" if k == 1 else f"xaxis{k}"
    yk = "yaxis" if k == 1 else f"yaxis{k}"
    layout[xk] = dict(domain=[fx(l), fx(r)], range=list(xr),
                      anchor="y" if k == 1 else f"y{k}",
                      tickvals=xt, ticktext=[fmt(v) for v in xt], **com)
    layout[yk] = dict(domain=[fy(b), fy(t)], range=list(yr),
                      anchor="x" if k == 1 else f"x{k}",
                      tickvals=yt, ticktext=[fmt(v) for v in yt], **com)

annotations = []
for p in range(9):
    l, r, t, b = MAIN_BOX[p]
    annotations.append(dict(x=fx((l + r) / 2), y=fy(b + 31), xref="paper", yref="paper",
                            text="X(m)", showarrow=False, xanchor="center", yanchor="middle",
                            font=dict(size=13, color=AXC, family="Liberation Sans, Arial")))
    annotations.append(dict(x=fx(l - 27), y=fy((t + b) / 2), xref="paper", yref="paper",
                            text="Y(m)", showarrow=False, textangle=-90,
                            xanchor="center", yanchor="middle",
                            font=dict(size=13, color=AXC, family="Liberation Sans, Arial")))
    il, ir, it, ib = INSET_BOX[p]
    annotations.append(dict(x=fx(ir - 17.5), y=fy(it + 13.5), xref="paper", yref="paper",
                            text="x2", showarrow=False, xanchor="center", yanchor="middle",
                            font=dict(size=14, color="black", family="Liberation Sans, Arial")))
    cx, cy = CAPTION_POS[p]
    annotations.append(dict(x=fx(cx), y=fy(cy), xref="paper", yref="paper",
                            text=f"{CAPTIONS[p]}\u00a0 Trajectory\u00a0\u00a0\u00a0 {p + 1}",
                            showarrow=False, xanchor="center", yanchor="middle",
                            font=dict(size=18.5, color="black",
                                      family="Liberation Serif, Times New Roman, serif")))

# ---- manual legend at the top ----
LEG_Y = 13
LEG_ITEMS = [("SLAM", 78, 137, 143), ("LSTM", 308, 368, 375), ("DNN", 523, 583, 590),
             ("SNN", 656, 716, 720), ("SVM", 778, 838, 844), ("GT", 908, 968, 973)]
shapes = []
for key, x0, x1, tx in LEG_ITEMS:
    c, w = STYLE[key]
    shapes.append(dict(type="line", xref="paper", yref="paper", x0=fx(x0), x1=fx(x1),
                       y0=fy(LEG_Y), y1=fy(LEG_Y),
                       line=dict(color=c, width=3 if key == "GT" else 1.2)))
    annotations.append(dict(x=fx(tx), y=fy(LEG_Y + 0.5), xref="paper", yref="paper",
                            text=SERIES_NAMES[key], showarrow=False, xanchor="left",
                            yanchor="middle",
                            font=dict(size=22, color="black",
                                      family="Liberation Serif, Times New Roman, serif")))
shapes.append(dict(type="circle", xref="paper", yref="paper", x0=fx(1134.5), x1=fx(1145.5),
                   y0=fy(LEG_Y + 5.5), y1=fy(LEG_Y - 5.5), fillcolor="black",
                   line=dict(color="black", width=0)))
annotations.append(dict(x=fx(1177), y=fy(LEG_Y + 0.5), xref="paper", yref="paper",
                        text="Start Position", showarrow=False, xanchor="left", yanchor="middle",
                        font=dict(size=22, color="black",
                                  family="Liberation Serif, Times New Roman, serif")))

layout["annotations"] = annotations
layout["shapes"] = shapes
fig.update_layout(**layout)

# remove the default page margin so the 1396x1321 figure fills the window exactly
PAGE_FIX = ("document.body.style.margin='0';document.body.style.padding='0';"
            "document.body.style.overflow='hidden';"
            "document.documentElement.style.overflow='hidden';")
fig.write_html("out.html", include_plotlyjs=True, post_script=PAGE_FIX,
               config={"displayModeBar": False, "responsive": False})
